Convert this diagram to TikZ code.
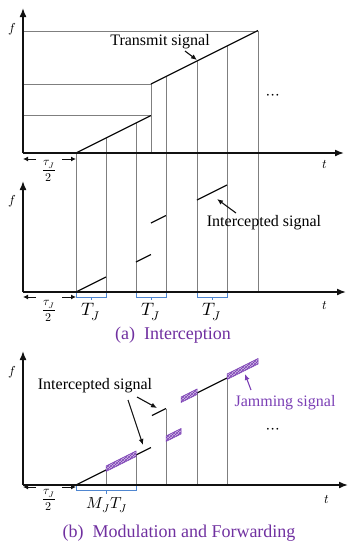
\documentclass[tikz,border=0pt]{standalone}
\usepackage{fontspec}
\setmainfont{Liberation Serif}
\usepackage{unicode-math}
\usepackage{tikz}
\usetikzlibrary{arrows.meta,patterns}
\definecolor{ink}{HTML}{111111}
\definecolor{guidegray}{HTML}{7F7F7F}
\definecolor{captpurple}{HTML}{7030A0}
\definecolor{jampurple}{HTML}{7B3FB5}
\definecolor{braceblue}{HTML}{4F86D0}

\begin{document}
\begin{tikzpicture}[x=1pt,y=-1pt,
  axis/.style={ink,line width=1.6pt,-{Latex[length=9pt,width=7pt]}},
  sig/.style={ink,line width=1.3pt},
  guide/.style={guidegray,line width=0.5pt},
  jamband/.style={draw=jampurple,line width=0.5pt,fill=jampurple!35,postaction={pattern=crosshatch,pattern color=jampurple}},
  half/.style={ink,line width=1pt,-{Latex[length=5pt,width=5pt]}},
  pointer/.style={line width=1.1pt,-{Latex[length=6pt,width=5pt]}},
  bracket/.style={braceblue,line width=0.8pt},
  lbl/.style={font=\fontsize{16}{18}\selectfont},
  tjlbl/.style={font=\fontsize{18}{20}\selectfont},
  axlbl/.style={font=\fontsize{13}{15}\selectfont},
  fraclbl/.style={font=\fontsize{12}{14}\selectfont,inner sep=0pt},
  dotlbl/.style={font=\fontsize{17}{19}\selectfont},
  captext/.style={captpurple,font=\fontsize{18}{21}\selectfont}]
\useasboundingbox (0,0) rectangle (359,550);
\coordinate (O1) at (23,153);
\coordinate (O2) at (23,292);
\coordinate (O3) at (23,485);
% (a) transmit signal
\draw[guide] (23,31) -| (258,292);
\draw[guide] (23,84) -| (151,153);
\draw[guide] (23,115.5) -- (151,115.5);
\foreach \x/\y in {76/153,106/138,136/123,166/76.5,197/61,227/46}
  \draw[guide] (\x,\y) -- (\x,292);
\draw[sig] (76,153) -- (151,115.5);
\draw[sig] (151,84) -- (258,30.5);
\draw[axis] (O1) -- (23,8);
\draw[axis] (O1) -- (344,153);
\node[axlbl] (f1) at (12,29) {$f$};
\node[axlbl] (t1) at (325,164) {$t$};
\node[lbl] (tx) at (160,42) {Transmit signal};
\coordinate (txend) at (197,60);
\draw[pointer,ink] (185,51) -- (txend);
\node[dotlbl] (dots1) at (273,97) {$\cdots$};
\node[fraclbl] (tau1) at (49,171) {$\dfrac{\tau_J}{2}$};
\draw[half] (36,159) -- (23,159);
\draw[half] (62,159) -- (76,159);
% (a) intercepted signal
\draw[sig] (76,292) -- (106,277);
\draw[sig] (136,262) -- (151,254.5);
\draw[sig] (151,223) -- (166,215.5);
\draw[sig] (197,200) -- (227,185);
\draw[axis] (O2) -- (23,181);
\draw[axis] (O2) -- (346,292);
\node[axlbl] (f2) at (12,201) {$f$};
\node[axlbl] (t2) at (325,305) {$t$};
\node[lbl] (ix) at (264,223) {Intercepted signal};
\coordinate (ixend) at (217,199);
\draw[pointer,ink] (236,213) -- (ixend);
\foreach \a/\b in {76/106,136/166,197/227}{
  \draw[bracket] (\a,293) -- (\a,297) -- (\b,297) -- (\b,293);
  \draw[bracket] ({(\a+\b)/2},297) -- ++(0,3);
  \node[tjlbl] at ({(\a+\b)/2},312) {$T_J$};
}
\node[fraclbl] (tau2) at (49,311) {$\dfrac{\tau_J}{2}$};
\draw[half] (36,297) -- (23,297);
\draw[half] (62,297) -- (76,297);
\node[captext] (capa) at (173,335) {(a)\ \ Interception};
% (b) modulation and forwarding
\foreach \x/\y in {106/470,136/455,166/408.5,197/393,227/378}
  \draw[guide] (\x,\y) -- (\x,485);
\draw[sig] (76,485) -- (151,447.5);
\draw[sig] (152,415.5) -- (166,408.5);
\draw[sig] (197,393) -- (227,378);
\foreach \a/\b/\c in {106/136/523,166/181/523,181/197/491.5,227/258/491.5}
  \filldraw[jamband] (\a,{\c-0.5*\a-4}) -- (\b,{\c-0.5*\b-4}) -- (\b,{\c-0.5*\b+1.5}) -- (\a,{\c-0.5*\a+1.5}) -- cycle;
\draw[axis] (O3) -- (23,351);
\draw[axis] (O3) -- (348,485);
\node[axlbl] (f3) at (12,372) {$f$};
\node[axlbl] (t3) at (327,499) {$t$};
\node[lbl] (bx) at (95,386) {Intercepted signal};
\coordinate (bxend1) at (143,445);
\coordinate (bxend2) at (157,408);
\draw[pointer,ink] (128,400) -- (bxend1);
\draw[pointer,ink] (137,397) -- (bxend2);
\node[lbl,jampurple] (jx) at (285,403) {Jamming signal};
\coordinate (jxend) at (245,374);
\draw[pointer,jampurple] (251,390) -- (jxend);
\node[dotlbl] (dots3) at (273,431) {$\cdots$};
\draw[bracket] (76,486) -- (76,490) -- (136,490) -- (136,486);
\draw[bracket] (106,490) -- (106,494);
\node[lbl] (mt) at (107,505) {$M_JT_J$};
\node[fraclbl] (tau3) at (49,500) {$\dfrac{\tau_J}{2}$};
\draw[half] (36,487) -- (23,487);
\draw[half] (62,487) -- (76,487);
\node[captext] (capb) at (179,533) {(b)\ \ Modulation and Forwarding};
\end{tikzpicture}
\end{document}
